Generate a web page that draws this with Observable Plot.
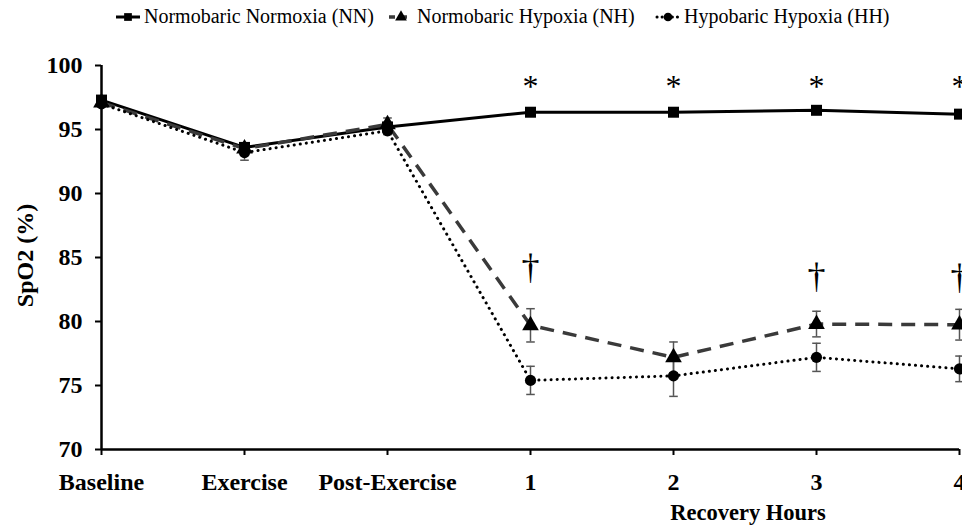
<!DOCTYPE html>
<html>
<head>
<meta charset="utf-8">
<script src="https://cdn.jsdelivr.net/npm/d3@7"></script>
<script src="https://cdn.jsdelivr.net/npm/@observablehq/plot@0.6"></script>
<style>
  html, body { margin: 0; padding: 0; background: #fff; }
  body { width: 962px; height: 525px; overflow: hidden; font-family: "Liberation Serif", serif; }
  #legend { position: relative; height: 36px; }
  .item { position: absolute; top: 5px; display: flex; align-items: center; font-size: 20px; color: #000; white-space: nowrap; }
  .item svg { margin-right: 3px; }
</style>
</head>
<body>
<div id="legend"></div>
<div id="chart"></div>
<script>
// categories (x axis)
const categories = ["Baseline", "Exercise", "Post-Exercise", "1", "2", "3", "4"];
// series
const seriesNames = ["Normobaric Normoxia (NN)", "Normobaric Hypoxia (NH)", "Hypobaric Hypoxia (HH)"];
const nnValues = [97.3, 93.6, 95.2, 96.35, 96.35, 96.5, 96.2];
const nnErrors = [0.2, 0.3, 0.3, 0.2, 0.2, 0.2, 0.25];
const nhValues = [97.1, 93.5, 95.4, 79.7, 77.2, 79.8, 79.75];
const nhErrors = [0.2, 0.3, 0.5, 1.3, 1.2, 1.0, 1.2];
const hhValues = [97.0, 93.2, 94.9, 75.4, 75.75, 77.2, 76.3];
const hhErrors = [0.2, 0.6, 0.3, 1.1, 1.6, 1.1, 1.0];
// significance marks
const asteriskIdx = [3, 4, 5, 6];
const asteriskY = [98.75, 98.75, 98.75, 98.75];
const daggerIdx = [3, 5, 6];
const daggerY = [84.3, 83.6, 83.5];
// axis ticks
const yTicks = [70, 75, 80, 85, 90, 95, 100];
const xTitle = "Recovery Hours";
const yTitle = "SpO2 (%)";

const styles = [
  {stroke: "#000", width: 3, dash: null, cap: "butt", symbol: "square", r: 6.2},
  {stroke: "#3a3a3a", width: 3.5, dash: "14,9", cap: "butt", symbol: "triangle", r: 6.2},
  {stroke: "#000", width: 3, dash: "0.1,6", cap: "round", symbol: "circle", r: 5.6}
];
const allValues = [nnValues, nhValues, hhValues];
const allErrors = [nnErrors, nhErrors, hhErrors];

const data = [];
allValues.forEach((vals, s) => vals.forEach((v, i) => data.push({series: s, i, v, e: allErrors[s][i]})));

const marks = [];
// axes
marks.push(Plot.axisY({ticks: yTicks, tickSize: 6, tickPadding: 13, fontSize: 24, fontWeight: "bold", label: null, strokeWidth: 2}));
marks.push(Plot.axisX({ticks: d3.range(categories.length), tickFormat: i => categories[i], tickSize: 6, tickPadding: 17, fontSize: 24, fontWeight: "bold", label: null, strokeWidth: 2}));
marks.push(Plot.ruleX([0], {y1: 70, y2: 100, stroke: "#000", strokeWidth: 2.5}));
marks.push(Plot.ruleY([70], {stroke: "#000", strokeWidth: 2.5}));

// lines
[0, 1, 2].forEach(s => {
  const st = styles[s];
  marks.push(Plot.line(data.filter(d => d.series === s), {
    x: "i", y: "v", stroke: st.stroke, strokeWidth: st.width,
    strokeDasharray: st.dash, strokeLinecap: st.cap, strokeLinejoin: "round"
  }));
});
// error bars
marks.push(Plot.ruleX(data, {x: "i", y1: d => d.v - d.e, y2: d => d.v + d.e, stroke: "#555", strokeWidth: 1.5}));
marks.push(Plot.link(data, {x1: d => d.i - 0.03, x2: d => d.i + 0.03, y1: d => d.v - d.e, y2: d => d.v - d.e, stroke: "#555", strokeWidth: 1.5}));
marks.push(Plot.link(data, {x1: d => d.i - 0.03, x2: d => d.i + 0.03, y1: d => d.v + d.e, y2: d => d.v + d.e, stroke: "#555", strokeWidth: 1.5}));
// markers
[0, 1, 2].forEach(s => {
  const st = styles[s];
  marks.push(Plot.dot(data.filter(d => d.series === s), {x: "i", y: "v", symbol: st.symbol, r: st.r, fill: "#000", stroke: "none"}));
});
// significance
marks.push(Plot.text(asteriskIdx, {x: d => d, y: (d, k) => asteriskY[k], text: () => "*", fontSize: 32, fontWeight: "normal", lineAnchor: "middle", dy: 5}));
marks.push(Plot.text(daggerIdx, {x: d => d, y: (d, k) => daggerY[k], text: () => "\u2020", fontSize: 36, fontWeight: "normal", lineAnchor: "middle", dy: 1}));
// titles
marks.push(Plot.text([xTitle], {x: 4.5, frameAnchor: "bottom", dy: 63, dx: 3, text: d => d, fontSize: 22.5, fontWeight: "bold", lineAnchor: "middle"}));
marks.push(Plot.text([yTitle], {frameAnchor: "left", dx: -76, dy: -2, text: d => d, rotate: -90, textAnchor: "middle", fontSize: 24, fontWeight: "bold", lineAnchor: "middle"}));

const chart = Plot.plot({
  width: 962,
  height: 489,
  marginTop: 29,
  marginBottom: 76,
  marginLeft: 101,
  marginRight: 3,
  style: {fontFamily: "Liberation Serif, serif", color: "#000", background: "#fff", overflow: "hidden"},
  x: {type: "linear", domain: [0, categories.length - 1]},
  y: {domain: [70, 100]},
  marks
});
document.getElementById("chart").appendChild(chart);

// legend
const legend = document.getElementById("legend");
const lefts = [115, 388, 655];
seriesNames.forEach((name, s) => {
  const st = styles[s];
  const item = document.createElement("div");
  item.className = "item";
  item.style.left = lefts[s] + "px";
  const ns = "http://www.w3.org/2000/svg";
  const svg = document.createElementNS(ns, "svg");
  svg.setAttribute("width", 26); svg.setAttribute("height", 14);
  const line = document.createElementNS(ns, "line");
  line.setAttribute("x1", 1); line.setAttribute("x2", 25); line.setAttribute("y1", 7); line.setAttribute("y2", 7);
  line.setAttribute("stroke", st.stroke); line.setAttribute("stroke-width", st.width);
  if (s === 1) line.setAttribute("stroke-dasharray", "6,6");
  if (s === 2) { line.setAttribute("stroke-dasharray", "0.1,5"); line.setAttribute("stroke-linecap", "round"); line.setAttribute("x1", 2); }
  svg.appendChild(line);
  const sym = document.createElementNS(ns, "path");
  const symType = s === 0 ? d3.symbolSquare : s === 1 ? d3.symbolTriangle : d3.symbolCircle;
  sym.setAttribute("d", d3.symbol(symType, 60)());
  sym.setAttribute("transform", "translate(13,7)");
  sym.setAttribute("fill", "#000");
  svg.appendChild(sym);
  item.appendChild(svg);
  const span = document.createElement("span");
  span.textContent = name;
  item.appendChild(span);
  legend.appendChild(item);
});
</script>
</body>
</html>
